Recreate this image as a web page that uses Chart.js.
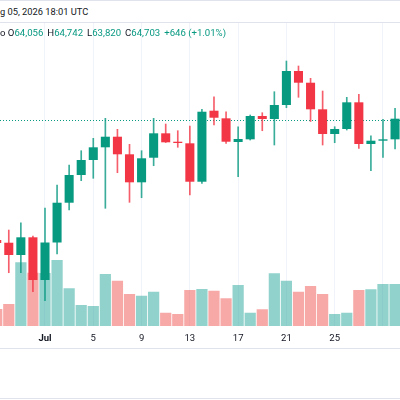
<!DOCTYPE html>
<html>
<head>
<meta charset="utf-8">
<script src="https://cdn.jsdelivr.net/npm/chart.js@4.4.1/dist/chart.umd.min.js"></script>
<style>
  body { margin: 0; width: 400px; height: 400px; overflow: hidden; background: #fff; font-family: Roboto, sans-serif; color: #131722; }
  #head { position: absolute; left: 0; top: 0; width: 400px; height: 23px; border-top: 1px solid #e0e3eb; border-bottom: 1px solid #e0e3eb; box-sizing: border-box; }
  #stamp { position: absolute; left: 0; top: 5px; font-size: 9.3px; white-space: nowrap; }
  #wrap { position: absolute; left: 0; top: 23px; width: 400px; height: 325px; border-bottom: 1px solid #e0e3eb; }
  #ohlc { position: absolute; left: 0; top: 27px; font-size: 9.6px; white-space: nowrap; }
  #ohlc .v { color: #089981; margin-right: 4px; }
  #foot { position: absolute; left: 0; top: 398px; width: 400px; border-top: 1px solid #e0e3eb; }
</style>
</head>
<body>
<div id="head"><span id="stamp">g 05, 2026 18:01 UTC</span></div>
<div id="wrap"><canvas id="chart" width="400" height="325"></canvas></div>
<div id="ohlc"></div>
<div id="foot"></div>
<script>
// Daily candles, Jun 27 - Jul 30
const dates = ['Jun 27', 'Jun 28', 'Jun 29', 'Jun 30', 'Jul 1', 'Jul 2', 'Jul 3', 'Jul 4', 'Jul 5', 'Jul 6',
  'Jul 7', 'Jul 8', 'Jul 9', 'Jul 10', 'Jul 11', 'Jul 12', 'Jul 13', 'Jul 14', 'Jul 15', 'Jul 16',
  'Jul 17', 'Jul 18', 'Jul 19', 'Jul 20', 'Jul 21', 'Jul 22', 'Jul 23', 'Jul 24', 'Jul 25', 'Jul 26',
  'Jul 27', 'Jul 28', 'Jul 29', 'Jul 30'];
const opens = [60093, 59990, 59519, 60197, 58561, 59998, 61522, 62583, 63157, 63644,
  64050, 63376, 62303, 63245, 64180, 63858, 63797, 62326, 65046, 64754,
  63847, 63950, 64843, 64728, 65264, 66566, 66118, 65099, 64153, 64345,
  65367, 63770, 63897, 63950];
const highs = [60247, 60476, 60756, 60247, 61319, 62200, 62966, 63514, 63989, 64754,
  64333, 63759, 63514, 64754, 64536, 64280, 64460, 65099, 65582, 65007,
  64433, 64881, 64969, 65773, 66949, 66758, 66287, 65800, 64433, 65559,
  65674, 64088, 64716, 65138];
const lows = [59825, 58841, 58841, 58113, 57769, 59557, 61242, 62365, 62457, 61308,
  62671, 61537, 61713, 62939, 63828, 63644, 61817, 62265, 64498, 63797,
  62518, 63923, 64280, 63732, 65160, 65559, 64632, 63732, 63820, 64306,
  63606, 62748, 63261, 63579];
const closes = [59979, 59519, 60197, 58561, 59998, 61522, 62583, 63157, 63644, 64050,
  63376, 62303, 63223, 64180, 63835, 63808, 62326, 65007, 64777, 63858,
  63962, 64843, 64728, 65264, 66566, 66118, 65099, 64153, 64345, 65367,
  63770, 63897, 63950, 64740];
const volumes = [6800, 8800, 25500, 21300, 21200, 26400, 15100, 8400, 8000, 20800,
  18100, 12800, 12100, 13700, 5300, 4800, 14400, 14800, 14100, 11100,
  16400, 5300, 6700, 21100, 18100, 13700, 16000, 12800, 4800, 5300,
  14400, 14700, 16800, 16800];

const tickDates = ['Jul 1', 'Jul 5', 'Jul 9', 'Jul 13', 'Jul 17', 'Jul 21', 'Jul 25', 'Jul 29'];
const tickLabels = ['Jul', '5', '9', '13', '17', '21', '25', ''];

// legend line (latest bar)
const legendKeys = ['O', 'H', 'L', 'C'];
const legendVals = ['64,056', '64,742', '63,820', '64,703'];
const legendChange = '+646 (+1.01%)';
const lastPrice = 64703;

const upColor = '#089981';
const downColor = '#f23645';
const wickUp = 'rgba(8,153,129,0.8)';
const wickDown = 'rgba(242,54,69,0.8)';
const volUp = 'rgba(38,166,154,0.5)';
const volDown = 'rgba(239,83,80,0.5)';
const gridColor = '#f0f3fa';

let html = '<span>o </span>';
legendKeys.forEach((k, i) => {
    html += `<span>${k}</span><span class="v">${legendVals[i]}</span>`;
});
html += `<span class="v">${legendChange}</span>`;
document.getElementById('ohlc').innerHTML = html;

const up = closes.map((c, i) => c >= opens[i]);

// dotted line at the last price
const priceLine = {
    id: 'priceLine',
    beforeDatasetsDraw(chart) {
        const y = Math.round(chart.scales.y.getPixelForValue(lastPrice)) + 0.5;
        const { left, right } = chart.chartArea;
        const c = chart.ctx;
        c.save();
        c.strokeStyle = upColor;
        c.lineWidth = 1;
        c.setLineDash([1, 2]);
        c.beginPath();
        c.moveTo(left, y);
        c.lineTo(right, y);
        c.stroke();
        c.restore();
    }
};

Chart.defaults.font.family = 'Roboto';

new Chart(document.getElementById('chart'), {
    type: 'bar',
    data: {
        datasets: [
            {
                label: 'Volume',
                yAxisID: 'yv',
                order: 3,
                grouped: false,
                data: dates.map((d, i) => ({ x: i, y: volumes[i] })),
                backgroundColor: up.map(u => u ? volUp : volDown),
                barPercentage: 0.93,
                categoryPercentage: 1
            },
            {
                label: 'Wick',
                yAxisID: 'y',
                order: 2,
                grouped: false,
                data: dates.map((d, i) => ({ x: i, y: [lows[i], highs[i]] })),
                backgroundColor: up.map(u => u ? wickUp : wickDown),
                barThickness: 1
            },
            {
                label: 'Body',
                yAxisID: 'y',
                order: 1,
                grouped: false,
                data: dates.map((d, i) => ({ x: i, y: [opens[i], closes[i]] })),
                backgroundColor: up.map(u => u ? upColor : downColor),
                barPercentage: 0.75,
                categoryPercentage: 1,
                minBarLength: 1
            }
        ]
    },
    options: {
        responsive: false,
        animation: false,
        layout: { padding: 0 },
        scales: {
            x: {
                type: 'linear',
                offset: false,
                bounds: 'data',
                min: 0.272,
                max: 33.41,
                afterBuildTicks: s => {
                    s.ticks = tickDates.map(d => ({ value: dates.indexOf(d) }));
                },
                afterFit: s => { s.height = 22; },
                ticks: {
                    autoSkip: false,
                    maxRotation: 0,
                    padding: 7,
                    color: '#131722',
                    font: ctx => ({
                        size: 9.5,
                        weight: tickLabels[ctx.index] === 'Jul' ? 'bold' : 'normal'
                    }),
                    callback: (v, i) => tickLabels[i]
                },
                grid: { color: gridColor, drawTicks: false, offset: false },
                border: { display: false }
            },
            y: {
                position: 'right',
                min: 56800,
                max: 68405,
                afterFit: s => { s.width = 0; },
                ticks: { display: false, stepSize: 1000 },
                grid: {
                    drawTicks: false,
                    color: ctx => (ctx.tick && ctx.tick.value % 1000 === 0 && ctx.tick.value < 68000) ? gridColor : 'transparent'
                },
                border: { display: false }
            },
            yv: {
                display: false,
                min: 0,
                max: 121200
            }
        },
        plugins: {
            legend: { display: false },
            tooltip: { enabled: false }
        }
    },
    plugins: [priceLine]
});
</script>
</body>
</html>
